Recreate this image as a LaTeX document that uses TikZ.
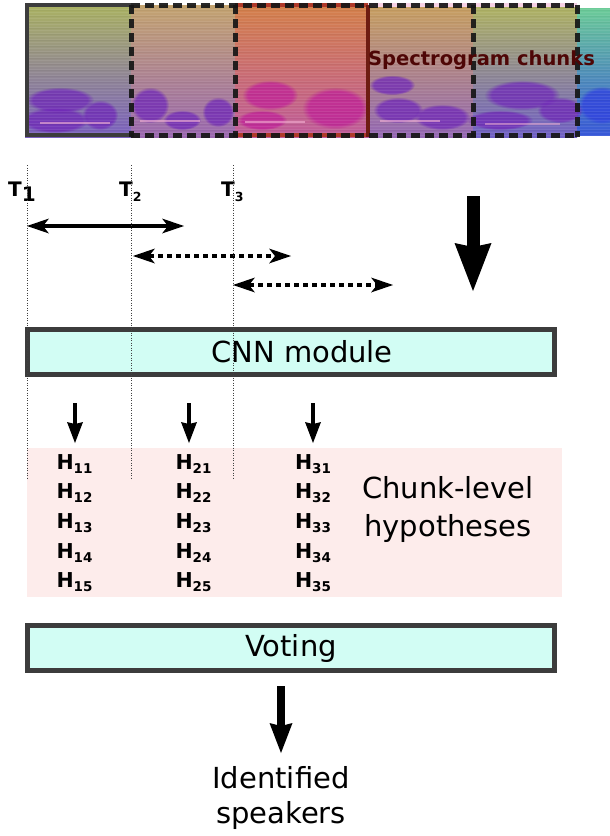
\documentclass[tikz,border=0pt]{standalone}
\usepackage{fontspec}
\setmainfont{DejaVu Sans}
\usetikzlibrary{arrows.meta,fadings}
\definecolor{boxfill}{HTML}{D2FDF4}
\definecolor{boxline}{HTML}{3C3C3C}
\definecolor{pinkbg}{HTML}{FDECEB}
\definecolor{chunkred}{HTML}{4E0606}
\definecolor{aT}{HTML}{AAB262}\definecolor{aM}{HTML}{80B0A0}\definecolor{aB}{HTML}{7A60C0}
\definecolor{bT}{HTML}{C4A470}\definecolor{bM}{HTML}{B09888}\definecolor{bB}{HTML}{9A68B0}
\definecolor{cT}{HTML}{D4804A}\definecolor{cM}{HTML}{C8785A}\definecolor{cB}{HTML}{C05C9C}
\definecolor{dT}{HTML}{C8A060}\definecolor{dM}{HTML}{B89A78}\definecolor{dB}{HTML}{9468B4}
\definecolor{eT}{HTML}{B0B462}\definecolor{eM}{HTML}{98AC8C}\definecolor{eB}{HTML}{7060C4}
\definecolor{fT}{HTML}{6CCC98}\definecolor{fM}{HTML}{40B8C8}\definecolor{fB}{HTML}{3858D8}
\definecolor{blobpurple}{HTML}{7028B8}
\definecolor{blobmagenta}{HTML}{C02098}
\definecolor{blobblue}{HTML}{3040E0}
\definecolor{streak}{HTML}{F4B4D4}
\definecolor{framegray}{HTML}{3C3C3C}
\definecolor{darkred}{HTML}{6E1C12}
\definecolor{lightred}{HTML}{B03A2A}
\definecolor{dashblack}{HTML}{161616}
\newcommand\hyp[1]{H\raisebox{-4pt}{\fontsize{13.5}{13.5}\selectfont #1}}
\begin{document}
\begin{tikzpicture}[x=1pt,y=-1pt,
  box/.style={draw=boxline, line width=5pt, fill=boxfill, minimum width=527pt, minimum height=45pt, inner sep=0pt, font=\fontsize{29}{32}\selectfont},
  bigtxt/.style={font=\fontsize{29}{36}\selectfont, align=center, inner sep=0pt},
  hlab/.style={font=\bfseries\fontsize{20.5}{20.5}\selectfont, inner sep=0pt, anchor=base},
  tlab/.style={font=\bfseries\fontsize{20}{20}\selectfont, inner sep=0pt, anchor=base west},
  guide/.style={draw=black!75, line width=0.7pt, dash pattern=on 1pt off 1.5pt},
  span/.style={line width=4pt, {Stealth[width=15pt,length=22pt,inset=6pt,line width=0pt]}-{Stealth[width=15pt,length=22pt,inset=6pt,line width=0pt]}},
  dotspan/.style={span, dash pattern=on 5pt off 4pt},
  harrow/.style={line width=4pt, -{Stealth[width=16pt,length=21pt,inset=2pt,line width=0pt]}},
  bigarrow/.style={line width=13pt, -{Stealth[width=37pt,length=48pt,inset=4pt,line width=0pt]}},
  midarrow/.style={line width=8pt, -{Stealth[width=23pt,length=30pt,inset=3pt,line width=0pt]}},
  blob/.style={opacity=0.75, path fading=circle with fuzzy edge 20 percent},
  chunkdash/.style={draw=dashblack, line width=5pt, dash pattern=on 9pt off 5pt, opacity=0.92},
]
\useasboundingbox (0,0) rectangle (610,836);
\fill[white] (0,0) rectangle (610,836);

% ---------------- spectrogram ----------------
\begin{scope}
\clip (25,5) rectangle (610,137);
\shade[top color=aT, middle color=aM, bottom color=aB] (25,5) rectangle (131,137);
\shade[top color=bT, middle color=bM, bottom color=bB] (131,5) rectangle (235,137);
\shade[top color=cT, middle color=cM, bottom color=cB] (235,5) rectangle (368,137);
\shade[top color=dT, middle color=dM, bottom color=dB] (368,5) rectangle (473,137);
\shade[top color=eT, middle color=eM, bottom color=eB] (473,5) rectangle (577,137);
\shade[top color=fT, middle color=fM, bottom color=fB] (577,8) rectangle (610,135);
% blobs
\fill[blob, blobpurple] (60,100) ellipse (34 and 13);
\fill[blob, blobpurple] (55,120) ellipse (34 and 13);
\fill[blob, blobpurple] (100,115) ellipse (18 and 15);
\fill[blob, blobpurple] (150,105) ellipse (19 and 18);
\fill[blob, blobpurple] (182,120) ellipse (19 and 10);
\fill[blob, blobpurple] (218,112) ellipse (16 and 15);
\fill[blob, blobmagenta] (270,95) ellipse (28 and 15);
\fill[blob, blobmagenta] (262,120) ellipse (25 and 10);
\fill[blob, blobmagenta] (335,108) ellipse (33 and 21);
\fill[blob, blobpurple] (392,85) ellipse (23 and 10);
\fill[blob, blobpurple] (398,110) ellipse (25 and 13);
\fill[blob, blobpurple] (442,117) ellipse (28 and 13);
\fill[blob, blobpurple] (522,95) ellipse (38 and 15);
\fill[blob, blobpurple] (500,120) ellipse (33 and 10);
\fill[blob, blobpurple] (560,110) ellipse (23 and 13);
\fill[blob, blobblue] (602,105) ellipse (24 and 19);
% texture
\foreach \yy in {9,12,...,135} \draw[white, opacity=0.08, line width=0.8pt] (25,\yy) -- (610,\yy);
\foreach \yy in {10.5,16.5,...,134} \draw[black, opacity=0.04, line width=0.8pt] (25,\yy) -- (610,\yy);
\draw[streak, opacity=0.6, line width=1.5pt] (40,123) -- (110,123);
\draw[streak, opacity=0.6, line width=1.5pt] (140,121) -- (200,121);
\draw[streak, opacity=0.6, line width=1.5pt] (245,122) -- (305,122);
\draw[streak, opacity=0.6, line width=1.5pt] (380,121) -- (440,121);
\draw[streak, opacity=0.5, line width=1.5pt] (485,124) -- (560,124);
\end{scope}

% frames
\draw[framegray, line width=4pt] (131,5) -- (27,5) -- (27,135) -- (131,135);
\draw[lightred, line width=4pt] (235,5) -- (368,5);
\draw[lightred, line width=4pt] (235,135) -- (368,135);
\draw[streak!60, line width=4pt] (368,5) -- (577,5);
\draw[darkred, line width=4pt] (368,5) -- (368,137);
\draw[chunkdash] (131,5) -- (577,5);
\draw[chunkdash] (131,135) -- (577,135);
\draw[chunkdash] (131,5) -- (131,137);
\draw[chunkdash] (235,5) -- (235,137);
\draw[chunkdash] (473,5) -- (473,137);
\draw[chunkdash] (577,5) -- (577,137);

\node[font=\bfseries\fontsize{19.5}{20}\selectfont, text=chunkred, inner sep=0pt, anchor=base] (spec) at (481.5,65) {Spectrogram chunks};

% ---------------- time guides ----------------
\coordinate (g1t) at (27,165);  \coordinate (g1b) at (27,478);
\coordinate (g2t) at (131,165); \coordinate (g2b) at (131,478);
\coordinate (g3t) at (233,165); \coordinate (g3b) at (233,478);

\node[tlab] (t1) at (8,196) {T\raisebox{-5pt}{\fontsize{20}{20}\selectfont 1}};
\node[tlab] (t2) at (119,196) {T\raisebox{-5pt}{\fontsize{12.5}{12.5}\selectfont 2}};
\node[tlab] (t3) at (221,196) {T\raisebox{-5pt}{\fontsize{12.5}{12.5}\selectfont 3}};

\coordinate (s1a) at (27,226);  \coordinate (s1b) at (184,226);
\coordinate (s2a) at (133,256); \coordinate (s2b) at (291,256);
\coordinate (s3a) at (233,285); \coordinate (s3b) at (393,285);
\draw[span] (s1a) -- (s1b);
\draw[dotspan] (s2a) -- (s2b);
\draw[dotspan] (s3a) -- (s3b);

\coordinate (ba) at (473,196); \coordinate (bb) at (473,291);
\draw[bigarrow] (ba) -- (bb);

% ---------------- pink hypotheses region ----------------
\fill[pinkbg] (27,448) rectangle (562,597);

% ---------------- CNN module ----------------
\node[box] (cnn) at (291,352) {\hspace*{22pt}CNN module};

% guides drawn over
\draw[guide] (g1t) -- (g1b);
\draw[guide] (g2t) -- (g2b);
\draw[guide] (g3t) -- (g3b);

% small arrows
\coordinate (a1t) at (75,403);  \coordinate (a1b) at (75,443);
\coordinate (a2t) at (189,403); \coordinate (a2b) at (189,443);
\coordinate (a3t) at (313,403); \coordinate (a3b) at (313,443);
\draw[harrow] (a1t) -- (a1b);
\draw[harrow] (a2t) -- (a2b);
\draw[harrow] (a3t) -- (a3b);

% hypotheses
\foreach \r/\yy in {1/469,2/498.5,3/528,4/558,5/587.5}{
  \node[hlab] (h1\r) at (74.5,\yy) {\hyp{1\r}};
  \node[hlab] (h2\r) at (193.5,\yy) {\hyp{2\r}};
  \node[hlab] (h3\r) at (313,\yy) {\hyp{3\r}};
}
\node[bigtxt, font=\fontsize{29}{38}\selectfont] (chunk) at (448,509) {Chunk-level\\hypotheses};

% ---------------- Voting ----------------
\node[box] (vote) at (291,648) {Voting};
\coordinate (va) at (281,686); \coordinate (vb) at (281,753);
\draw[midarrow] (va) -- (vb);
\node[bigtxt, font=\fontsize{29}{35}\selectfont] (out) at (281,798) {Identified\\speakers};
\end{tikzpicture}
\end{document}
